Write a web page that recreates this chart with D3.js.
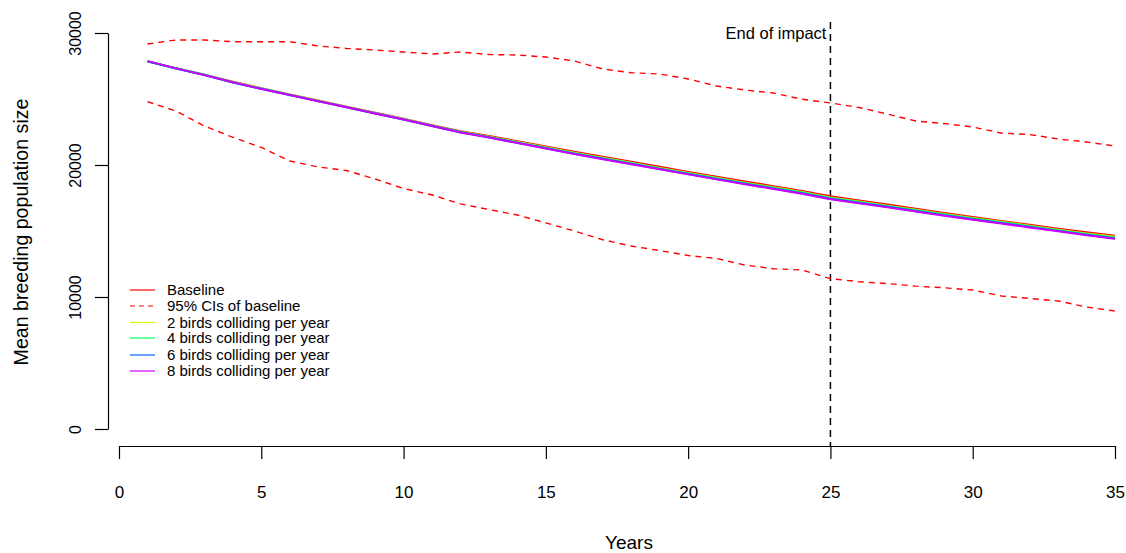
<!DOCTYPE html>
<html>
<head>
<meta charset="utf-8">
<script src="https://cdn.jsdelivr.net/npm/d3@7/dist/d3.min.js"></script>
<style>
  html, body { margin: 0; padding: 0; background: #ffffff; }
  svg { display: block; font-family: Arial, "Liberation Sans", sans-serif; }
</style>
</head>
<body>
<svg id="chart" width="1126" height="553"></svg>
<script>
// ---------------- data ----------------
const years = d3.range(1, 36);
const xTicks = [0, 5, 10, 15, 20, 25, 30, 35];
const yTicks = [0, 10000, 20000, 30000];
const impactEndYear = 25;

const baseline = [27850,27340,26830,26300,25820,25350,24880,24420,23960,23510,23020,22560,22200,21800,21400,21000,20620,20240,19860,19480,19110,18750,18400,18040,17640,17320,17000,16680,16370,16060,15760,15470,15180,14900,14640];
const ciUpper = [29170,29470,29470,29340,29340,29340,29020,28830,28710,28560,28410,28560,28370,28330,28180,27880,27270,26990,26890,26520,25980,25680,25450,24980,24700,24360,23860,23330,23140,22880,22420,22310,21970,21740,21440];
const ciLower = [24800,24090,22950,22100,21330,20300,19850,19580,18940,18220,17730,17050,16630,16210,15610,15000,14340,13860,13520,13140,12920,12420,12140,12050,11390,11160,11020,10820,10700,10530,10080,9890,9700,9240,8940];
const birds2 = [27850,27320,26840,26270,25800,25340,24860,24400,23930,23480,22980,22520,22150,21740,21340,20930,20550,20170,19780,19400,19030,18660,18310,17950,17540,17230,16920,16620,16290,15980,15700,15400,15100,14820,14560];
const birds4 = [27830,27330,26850,26260,25790,25320,24850,24380,23920,23470,22970,22500,22120,21710,21300,20900,20510,20130,19740,19360,18990,18620,18270,17910,17500,17200,16880,16580,16260,15950,15660,15360,15060,14770,14500];
const birds6 = [27860,27310,26810,26250,25770,25310,24840,24370,23900,23450,22960,22480,22100,21680,21270,20860,20470,20090,19700,19320,18940,18580,18220,17860,17450,17140,16830,16520,16200,15890,15600,15310,15010,14720,14440];
const birds8 = [27870,27320,26820,26260,25760,25300,24830,24370,23900,23440,22950,22470,22080,21660,21250,20840,20440,20060,19670,19290,18910,18540,18180,17820,17410,17100,16790,16470,16160,15860,15560,15270,14980,14680,14410];

const legendLabels = ["Baseline", "95% CIs of baseline", "2 birds colliding per year", "4 birds colliding per year", "6 birds colliding per year", "8 birds colliding per year"];
const legendColors = ["#FF0000", "#FF0000", "#CCFF00", "#00FF66", "#0066FF", "#CC00FF"];
const legendDashed = [false, true, false, false, false, false];

// ---------------- chart ----------------
const svg = d3.select("#chart");
const x = d3.scaleLinear().domain([0, 35]).range([119, 1115]);
const y = d3.scaleLinear().domain([0, 30000]).range([429, 33]);

// axes
const yAxis = svg.append("g")
  .attr("transform", "translate(108,0)")
  .call(d3.axisLeft(y).tickValues(yTicks).tickFormat(d3.format("d")).tickSize(13).tickSizeOuter(0));
yAxis.selectAll("path.domain, line").attr("stroke", "#000").attr("stroke-width", 1.2);
yAxis.selectAll("text")
  .attr("x", null).attr("dy", null)
  .attr("transform", "translate(-27,0) rotate(-90)")
  .attr("text-anchor", "middle")
  .attr("font-size", 16).attr("font-family", "Arial, 'Liberation Sans', sans-serif")
  .attr("fill", "#000");

const xAxis = svg.append("g")
  .attr("transform", "translate(0,446)")
  .call(d3.axisBottom(x).tickValues(xTicks).tickFormat(d3.format("d")).tickSize(13).tickSizeOuter(0).tickPadding(27));
xAxis.selectAll("path.domain, line").attr("stroke", "#000").attr("stroke-width", 1.2);
xAxis.selectAll("text")
  .attr("font-size", 17).attr("font-family", "Arial, 'Liberation Sans', sans-serif")
  .attr("fill", "#000");

// axis titles
svg.append("text")
  .attr("transform", "translate(28,232) rotate(-90)")
  .attr("text-anchor", "middle")
  .attr("font-size", 19.6)
  .attr("fill", "#000")
  .text("Mean breeding population size");
svg.append("text")
  .attr("x", 629).attr("y", 549)
  .attr("text-anchor", "middle")
  .attr("font-size", 19)
  .attr("fill", "#000")
  .text("Years");

// end of impact line
svg.append("line")
  .attr("x1", x(impactEndYear)).attr("x2", x(impactEndYear))
  .attr("y1", 22).attr("y2", 446)
  .attr("stroke", "#000").attr("stroke-width", 1.5)
  .attr("stroke-dasharray", "7,5");
svg.append("text")
  .attr("x", x(impactEndYear) - 4).attr("y", 39)
  .attr("text-anchor", "end")
  .attr("font-size", 16.5)
  .attr("fill", "#000")
  .text("End of impact");

// lines
const line = d3.line().x((d, i) => x(years[i])).y(d => y(d));
function draw(data, color, dashed, width) {
  svg.append("path")
    .datum(data)
    .attr("d", line)
    .attr("fill", "none")
    .attr("stroke", color)
    .attr("stroke-width", width)
    .attr("stroke-dasharray", dashed ? "6,5" : null);
}
draw(ciUpper, "#FF0000", true, 1.4);
draw(ciLower, "#FF0000", true, 1.4);
draw(baseline, "#FF0000", false, 2);
draw(birds2, "#CCFF00", false, 2);
draw(birds4, "#00FF66", false, 2);
draw(birds6, "#0066FF", false, 2);
draw(birds8, "#CC00FF", false, 2);

// legend
const legendY = [290, 306, 322.5, 338, 355, 371];
const lg = svg.append("g");
legendLabels.forEach((lab, i) => {
  lg.append("line")
    .attr("x1", 130).attr("x2", 155)
    .attr("y1", legendY[i]).attr("y2", legendY[i])
    .attr("stroke", legendColors[i]).attr("stroke-width", 1.2)
    .attr("stroke-dasharray", legendDashed[i] ? "5,4" : null);
  lg.append("text")
    .attr("x", 167).attr("y", legendY[i] + 5)
    .attr("font-size", 15)
    .attr("fill", "#000")
    .text(lab);
});
</script>
</body>
</html>
